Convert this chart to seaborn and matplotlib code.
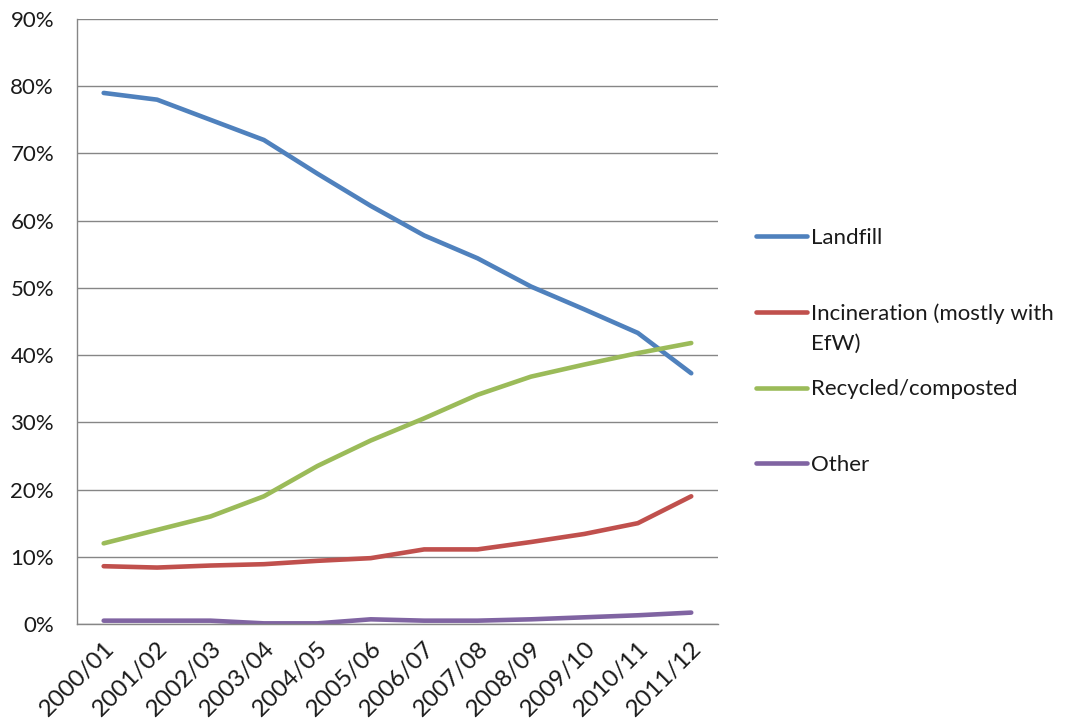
import matplotlib
matplotlib.use("Agg")
import matplotlib.pyplot as plt
import seaborn as sns
import pandas as pd
import numpy as np
from matplotlib.ticker import FuncFormatter, FixedLocator

# Dane (udział w %)
years = ['2000/01', '2001/02', '2002/03', '2003/04', '2004/05', '2005/06',
         '2006/07', '2007/08', '2008/09', '2009/10', '2010/11', '2011/12']
landfill = [79.0, 78.0, 75.0, 72.0, 67.0, 62.2, 57.8, 54.4, 50.2, 46.8, 43.3, 37.3]
incineration = [8.6, 8.4, 8.7, 8.9, 9.4, 9.8, 11.1, 11.1, 12.2, 13.4, 15.0, 19.0]
recycled = [12.0, 14.0, 16.0, 19.0, 23.5, 27.3, 30.6, 34.1, 36.8, 38.6, 40.3, 41.8]
other = [0.5, 0.5, 0.5, 0.1, 0.1, 0.7, 0.5, 0.5, 0.7, 1.0, 1.3, 1.7]

series_names = ['Landfill', 'Incineration (mostly with EfW)', 'Recycled/composted', 'Other']
colors = ['#4F81BD', '#C0504D', '#9BBB59', '#8064A2']

df = pd.DataFrame({'year': years * 4,
                   'idx': list(range(len(years))) * 4,
                   'value': landfill + incineration + recycled + other,
                   'series': np.repeat(series_names, len(years))})

sns.set_style('white')
plt.rcParams['font.family'] = ['Lato', 'DejaVu Sans']
txt_color = '#1a1a1a'
grid_color = '#868686'

fig = plt.figure(figsize=(10.66, 7.22), dpi=100)
ax = fig.add_axes([0.0722, 0.1357, 0.6013, 0.838])

sns.lineplot(data=df, x='idx', y='value', hue='series', palette=colors,
             linewidth=3.3, ax=ax, legend=False)

# Osie
ax.set_xlim(-0.5, len(years) - 0.5)
ax.set_ylim(0, 90)
ax.set_yticks(np.arange(0, 91, 10))
ax.yaxis.set_major_formatter(FuncFormatter(lambda v, p: f'{v:.0f}%'))
ax.set_xticks(range(len(years)))
ax.set_xticklabels(years, rotation=45, ha='right', rotation_mode='anchor')
ax.xaxis.set_minor_locator(FixedLocator(np.arange(-0.5, len(years), 1)))
ax.tick_params(axis='x', which='major', length=0, pad=10, labelsize=17.5)
ax.tick_params(axis='x', which='minor', length=5.8, width=1, color=grid_color, direction='out')
ax.tick_params(axis='y', length=6.5, width=1, color=grid_color, labelsize=16, pad=10)
for lbl in ax.get_yticklabels() + ax.get_xticklabels():
    lbl.set_color(txt_color)
ax.grid(axis='y', color=grid_color, linewidth=1)
ax.set_axisbelow(True)
ax.set_xlabel('')
ax.set_ylabel('')
for s in ['top', 'right']:
    ax.spines[s].set_visible(False)
for s in ['left', 'bottom']:
    ax.spines[s].set_color(grid_color)
    ax.spines[s].set_linewidth(1)

# Legenda - jak w Excelu: druga linia opisu spalania dopisana pod spodem
legend_labels = ['Landfill', 'Incineration (mostly with', 'Recycled/composted', 'Other']
handles = [plt.Line2D([], [], color=c, linewidth=3.3) for c in colors]
leg = fig.legend(handles, legend_labels, loc='upper left', bbox_to_anchor=(0.709, 0.684),
                 frameon=False, fontsize=16, handlelength=2.3, handletextpad=0.2,
                 labelspacing=2.49, borderpad=0, borderaxespad=0, labelcolor=txt_color)
efw = plt.Annotation('EfW)', xy=(0, 0), xycoords=leg.get_texts()[1],
                     xytext=(0, -30), textcoords='offset pixels',
                     fontsize=16, color=txt_color, ha='left', va='bottom')
efw.set_zorder(10)
fig.add_artist(efw)

fig.savefig('out.png', dpi=100)
